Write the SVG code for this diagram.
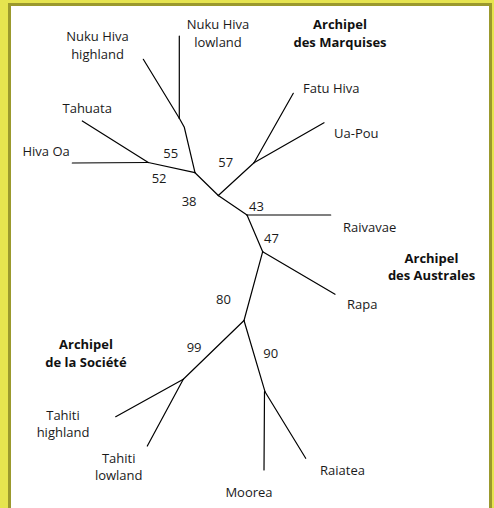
<svg xmlns="http://www.w3.org/2000/svg" width="494" height="508" viewBox="0 0 494 508">
  <style>
    .lbl { font-family: "Open Sans", "Liberation Sans", sans-serif; font-size: 13px; fill: #1a1a1a; }
    .grp { font-family: "Open Sans", "Liberation Sans", sans-serif; font-size: 13px; font-weight: bold; fill: #111; }
    .mid { text-anchor: middle; }
    .br { stroke: #000; stroke-width: 1.2; fill: none; stroke-linecap: round; }
  </style>
  <!-- frame -->
  <rect x="0" y="0" width="494" height="508" fill="#e6e44f"/>
  <rect x="9.5" y="4.5" width="481" height="510" fill="#ffffff" stroke="#9b992d" stroke-width="3"/>

  <!-- branches of the unrooted tree -->
  <g id="connectors" class="br">
    <path d="M143.3 59.3 L179.3 118.3"/>
    <path d="M179.3 36 L179.3 118.3"/>
    <path d="M179.3 118.3 L184.3 127.3 L195 172.7"/>
    <path d="M82.3 121 L148.3 162.5"/>
    <path d="M72.3 163 L148.3 162.5"/>
    <path d="M148.3 162.5 L195 172.7"/>
    <path d="M195 172.7 L218.3 195.5"/>
    <path d="M218.3 195.5 L254 162.7"/>
    <path d="M254 162.7 L293.3 93.3"/>
    <path d="M254 162.7 L324 122.7"/>
    <path d="M218.3 195.5 L247 215"/>
    <path d="M247 215 L330.7 215"/>
    <path d="M247 215 L262.7 251.7"/>
    <path d="M262.7 251.7 L335 294.3"/>
    <path d="M262.7 251.7 L244 320.5"/>
    <path d="M244 320.5 L183.3 379.3"/>
    <path d="M183.3 379.3 L115.7 416.7"/>
    <path d="M183.3 379.3 L147.3 446"/>
    <path d="M244 320.5 L265 391.7"/>
    <path d="M264.5 391.7 L264 470"/>
    <path d="M265 391.7 L305.7 458.3"/>
  </g>

  <g id="nuku-hiva-highland"><text class="lbl mid" x="97.5" y="40.5">Nuku Hiva</text><text class="lbl mid" x="97.5" y="58.5">highland</text></g>
  <g id="nuku-hiva-lowland"><text class="lbl mid" x="218" y="29">Nuku Hiva</text><text class="lbl mid" x="218" y="47">lowland</text></g>
  <g id="marquises"><text class="grp mid" x="340" y="29">Archipel</text><text class="grp mid" x="340" y="47">des Marquises</text></g>
  <g id="fatu-hiva"><text class="lbl" x="303" y="92.7">Fatu Hiva</text></g>
  <g id="ua-pou"><text class="lbl" x="334" y="138.3">Ua-Pou</text></g>
  <g id="tahuata"><text class="lbl" x="62.5" y="113.3">Tahuata</text></g>
  <g id="hiva-oa"><text class="lbl" x="22.5" y="156">Hiva Oa</text></g>
  <g id="raivavae"><text class="lbl" x="343" y="232.3">Raivavae</text></g>
  <g id="australes"><text class="grp mid" x="431.5" y="262.7">Archipel</text><text class="grp mid" x="431.5" y="279.5">des Australes</text></g>
  <g id="rapa"><text class="lbl" x="347" y="309.3">Rapa</text></g>
  <g id="societe"><text class="grp mid" x="86" y="349">Archipel</text><text class="grp mid" x="86" y="366.7">de la Société</text></g>
  <g id="tahiti-highland"><text class="lbl mid" x="63" y="420">Tahiti</text><text class="lbl mid" x="63" y="437.3">highland</text></g>
  <g id="tahiti-lowland"><text class="lbl mid" x="118.7" y="462.7">Tahiti</text><text class="lbl mid" x="118.7" y="480">lowland</text></g>
  <g id="moorea"><text class="lbl mid" x="249" y="496.7">Moorea</text></g>
  <g id="raiatea"><text class="lbl" x="320" y="475">Raiatea</text></g>

  <!-- bootstrap support values -->
  <g id="support">
    <text class="lbl" x="163.3" y="157.7">55</text>
    <text class="lbl" x="151.7" y="182.7">52</text>
    <text class="lbl" x="218.3" y="166.7">57</text>
    <text class="lbl" x="181.7" y="206">38</text>
    <text class="lbl" x="249" y="210.7">43</text>
    <text class="lbl" x="264" y="243.3">47</text>
    <text class="lbl" x="216" y="304">80</text>
    <text class="lbl" x="186.7" y="351.7">99</text>
    <text class="lbl" x="263.3" y="358.3">90</text>
  </g>
</svg>
